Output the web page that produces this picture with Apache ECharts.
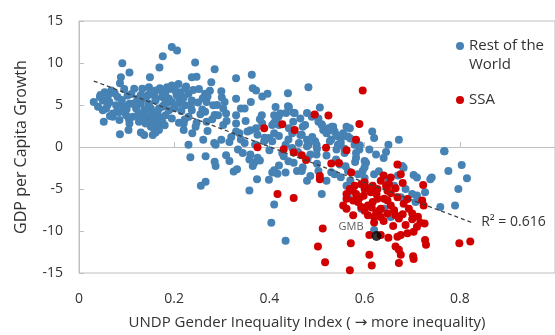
<!DOCTYPE html>
<html>
<head>
<meta charset="utf-8">
<script src="https://cdn.jsdelivr.net/npm/echarts@6/dist/echarts.min.js"></script>
<style>
  html, body { margin: 0; padding: 0; background: #fff; }
  #chart { width: 555px; height: 335px; }
</style>
</head>
<body>
<div id="chart"></div>
<script>
// Gender inequality index vs GDP per capita growth, one point per country-period
const xTicks = [0, 0.2, 0.4, 0.6, 0.8];
const yTicks = [-15, -10, -5, 0, 5, 10, 15];

// Rest of the world: [GII, GDP per capita growth]
const restOfWorld = [
  [0.031,5.36],[0.052,3.0],[0.091,9.96],[0.106,8.87],[0.088,8.3],[0.086,7.6],[0.195,11.9],[0.206,11.5],
  [0.176,10.8],[0.169,9.46],[0.149,8.3],[0.244,10.05],[0.285,9.26],[0.237,8.3],[0.247,8.36],[0.086,1.52],
  [0.104,2.03],[0.13,1.72],[0.137,1.44],[0.155,1.44],[0.161,1.72],[0.151,2.42],[0.166,2.6],[0.23,0.27],
  [0.22,2.03],[0.238,1.64],[0.261,0.86],[0.27,1.91],[0.284,0.47],[0.278,7.7],[0.275,6.7],[0.265,6.33],
  [0.252,6.9],[0.268,5.36],[0.282,4.96],[0.285,3.8],[0.247,2.9],[0.268,3.0],[0.237,4.37],[0.259,4.45],
  [0.222,3.28],[0.22,2.8],
  [0.054,6.53],[0.068,6.72],[0.05,4.37],[0.071,3.99],[0.057,4.57],[0.081,5.94],[0.092,4.96],[0.106,5.16],
  [0.116,6.92],[0.133,6.92],[0.147,7.11],[0.161,6.72],[0.175,6.53],[0.185,7.11],[0.195,7.31],[0.209,7.5],
  [0.223,6.92],[0.209,5.94],[0.175,5.94],[0.161,5.55],[0.147,5.16],[0.137,4.37],[0.126,3.79],[0.113,3.6],
  [0.099,3.79],[0.085,3.2],[0.071,3.6],[0.106,2.81],[0.126,3.01],[0.147,3.2],[0.168,3.6],[0.182,3.79],
  [0.189,4.37],[0.178,4.96],[0.195,5.35],[0.209,5.16],[0.223,4.96],[0.237,5.55],[0.23,6.33],[0.213,6.53],
  [0.189,5.74],[0.168,4.57],[0.154,3.99],[0.14,2.81],[0.12,4.57],[0.095,4.37],[0.078,4.96],[0.064,5.35],
  [0.05,5.55],[0.158,2.23],[0.168,2.03],[0.175,3.01],
  [0.061,6.14],[0.102,6.14],[0.123,5.74],[0.144,6.14],[0.157,6.33],[0.182,5.55],[0.202,6.72],[0.216,5.74],
  [0.14,3.79],[0.161,3.2],[0.085,4.18],[0.044,5.94],[0.113,5.16],[0.13,5.16],[0.151,4.57],[0.182,6.14],
  [0.04,4.8],[0.045,6.2],[0.06,5.0],[0.065,3.7],[0.075,6.4],[0.08,4.2],[0.09,5.6],[0.095,6.9],
  [0.1,4.5],[0.105,3.3],[0.11,6.3],[0.12,5.3],[0.125,4.0],[0.13,6.2],[0.135,3.4],[0.14,5.8],
  [0.145,4.7],[0.15,6.6],[0.155,3.0],[0.16,5.9],[0.165,4.2],[0.17,7.0],[0.175,4.8],[0.18,2.6],
  [0.185,5.3],[0.19,6.9],[0.195,3.4],[0.2,4.6],[0.205,6.2],[0.21,2.9],[0.215,4.3],[0.22,5.9],
  [0.225,7.2],[0.23,3.6],[0.235,4.9],[0.24,6.8],[0.245,2.4],[0.25,5.3],[0.255,3.9],[0.26,5.8],
  [0.265,4.2],[0.27,6.0],[0.28,3.3],[0.29,5.0],[0.3,5.9],[0.31,3.1],
  [0.33,8.17],[0.363,8.6],[0.365,7.0],[0.372,6.72],[0.482,7.11],[0.439,6.41],[0.385,6.02],[0.396,6.33],
  [0.299,6.64],[0.33,5.74],[0.361,5.35],[0.306,5.35],[0.303,4.57],[0.309,3.99],[0.292,3.79],[0.34,4.57],
  [0.348,4.57],[0.33,3.79],[0.384,3.79],[0.413,4.77],[0.439,4.85],[0.435,4.06],[0.453,4.06],[0.479,4.06],
  [0.506,4.69],[0.419,3.6],[0.385,2.81],[0.372,2.23],[0.354,1.84],[0.337,1.64],[0.33,1.84],[0.303,2.62],
  [0.299,0.86],[0.316,0.6],[0.287,0.27],[0.406,2.62],[0.417,2.81],[0.441,2.23],[0.448,1.64],[0.41,1.64],
  [0.399,1.06],[0.406,0.67],[0.389,0.67],[0.348,0.47],[0.475,2.62],[0.468,1.45],[0.479,0.86],[0.503,3.01],
  [0.51,2.62],[0.513,2.03],[0.52,1.64],[0.524,2.23],[0.531,2.42],[0.537,1.84],[0.544,1.25],[0.555,1.64],
  [0.565,1.25],[0.569,2.23],[0.527,0.67],[0.544,0.27],[0.558,-0.2],[0.496,0.67],[0.482,0.27],[0.462,0.47],
  [0.448,-0.12],[0.434,0.27],[0.465,3.4],[0.489,3.6],[0.496,3.79],[0.423,3.99],[0.375,1.45],
  [0.441,4.77],[0.451,4.07],[0.503,3.4],[0.534,2.42],[0.527,2.03],[0.562,2.42],[0.555,1.25],[0.541,1.44],
  [0.548,0.27],[0.579,0.27],[0.541,-0.31],[0.616,1.84],[0.62,1.06],[0.65,0.27],[0.672,0.86],[0.768,-0.5],
  [0.41,3.79],[0.42,2.62],[0.465,1.44],[0.479,0.08],[0.499,0.27],[0.486,-0.9],[0.499,-0.9],[0.582,-1.29],
  [0.603,-1.88],[0.624,-0.9],[0.645,-0.59],[0.679,-2.27],[0.589,-0.31],
  [0.234,-1.21],[0.266,-1.09],[0.285,-1.76],[0.287,-2.27],[0.309,-0.98],[0.316,-1.68],[0.334,-0.31],[0.344,-0.7],
  [0.325,-2.93],[0.332,-2.66],[0.256,-4.61],[0.266,-4.14],[0.358,-5.19],[0.374,-3.83],[0.358,-1.48],[0.368,-1.88],
  [0.375,-1.29],[0.365,-2.27],[0.399,-3.91],[0.406,-3.05],[0.417,-3.17],[0.41,-2.77],[0.434,-3.05],[0.41,-6.84],
  [0.404,-9.03],[0.434,-11.17],[0.427,-0.7],
  [0.451,-1.88],[0.458,-2.85],[0.468,-2.85],[0.486,-3.44],[0.479,-4.03],[0.503,-2.85],[0.52,-4.03],[0.51,-5.59],
  [0.537,-3.24],[0.548,-2.07],[0.565,-2.85],[0.586,-3.24],[0.6,-1.68],[0.582,-0.7],[0.558,-0.7],[0.62,-3.24],
  [0.596,-2.85],[0.662,-4.61],[0.676,-5.98],[0.686,-5.0],[0.7,-5.59],[0.707,-6.56],[0.562,-4.61],[0.565,-5.98],
  [0.593,-7.35],[0.62,-9.89],[0.641,-7.35],[0.655,-8.32],[0.682,-2.46],
  [0.767,-0.51],[0.804,-2.15],[0.776,-2.85],[0.815,-3.71],[0.703,-3.32],[0.71,-3.63],[0.738,-3.83],[0.741,-3.63],
  [0.797,-5.0],[0.727,-5.39],[0.71,-5.78],[0.79,-6.95],[0.759,-7.15],
  [0.32,1.2],[0.33,2.8],[0.34,0.9],[0.35,3.1],[0.36,2.0],[0.37,0.3],[0.38,3.3],[0.39,1.1],
  [0.4,-0.4],[0.41,2.9],[0.42,1.3],[0.43,-1.1],[0.44,0.9],[0.45,3.0],[0.46,-0.6],[0.47,2.4],
  [0.48,-1.4],[0.49,1.2],[0.5,-0.2],[0.51,2.7],[0.52,-1.0],[0.53,0.9],[0.54,-1.5],[0.55,0.5],
  [0.56,-2.3],[0.57,1.0],[0.58,-1.8],[0.59,0.2],[0.6,-2.4],[0.61,-0.3],[0.36,-0.9],[0.38,-1.6],
  [0.42,-2.2],[0.44,-1.7],[0.47,-2.4],[0.5,-2.0],[0.53,-3.0],[0.55,-3.6],[0.57,-4.0],[0.6,-3.7],
  [0.63,-2.9],[0.65,-4.0],[0.64,-1.3],[0.67,-3.4]
];

// Sub-Saharan Africa: [GII, GDP per capita growth]
const ssa = [
  [0.389,2.23],[0.375,-0.04],[0.427,2.7],[0.453,2.03],[0.495,3.87],[0.524,3.75],[0.43,-0.27],[0.451,-0.66],
  [0.519,-0.1],[0.562,-0.4],[0.596,6.72],[0.589,2.73],[0.582,0.86],[0.468,-0.97],[0.477,-1.56],[0.53,-1.95],
  [0.546,-1.91],[0.669,-2.07],[0.417,-5.59],
  [0.572,-3.05],[0.655,-3.63],[0.651,-4.4],[0.676,-3.24],[0.451,-6.06],[0.506,-3.83],[0.555,-6.96],[0.562,-7.35],
  [0.576,-8.13],[0.582,-5.59],[0.598,-5.79],[0.613,-5.4],[0.603,-4.81],[0.593,-4.42],[0.617,-4.61],[0.627,-5.0],
  [0.634,-4.03],[0.641,-6.17],[0.627,-6.17],[0.648,-5.2],[0.607,-8.13],[0.62,-8.32],[0.634,-8.32],[0.648,-7.93],
  [0.662,-7.54],[0.672,-8.52],[0.686,-9.3],[0.676,-10.47],[0.69,-10.28],[0.703,-10.08],[0.71,-9.5],[0.61,-10.47],
  [0.634,-10.47],[0.593,-7.15],[0.607,-6.96],[0.634,-7.35],[0.655,-6.96],[0.669,-5.98],[0.682,-6.76],[0.693,-7.35],
  [0.512,-9.69],[0.571,-11.45],[0.502,-11.84],[0.517,-13.72],[0.569,-14.66],[0.61,-12.82],[0.615,-14.11],[0.672,-12.23],
  [0.676,-12.82],[0.672,-13.8],[0.702,-13.0],[0.669,-10.67],[0.576,-6.37],[0.562,-6.17],[0.586,-6.56],[0.617,-6.56],
  [0.648,-6.37],[0.624,-7.93],[0.665,-8.13],[0.6,-5.0],[0.579,-4.61],[0.569,-5.0],[0.562,-5.59],
  [0.723,-4.53],[0.721,-6.37],[0.724,-6.95],[0.7,-7.93],[0.717,-9.03],[0.727,-11.06],[0.729,-11.65],[0.799,-11.45],
  [0.822,-11.26],[0.703,-13.33],[0.665,-11.84],[0.712,-8.3],[0.506,-3.44],[0.726,-9.1],
  [0.575,-5.2],[0.59,-6.0],[0.6,-7.6],[0.615,-7.2],[0.625,-5.6],[0.64,-8.8],[0.655,-5.5],[0.66,-9.4],
  [0.68,-8.0],[0.69,-6.2],[0.7,-8.6],[0.62,-9.0],[0.63,-7.6],[0.65,-10.8],[0.6,-4.2],
  [0.645,-4.6],[0.665,-4.9],[0.68,-4.3],[0.64,-3.4]
];

// The Gambia, highlighted
const gmb = [[0.625, -10.59]];

// Linear fit across all points
const trendX = [0.031, 0.824];
const trendY = [7.85, -8.96];
const rSquared = '0.616';

const BLUE = '#4682B4';
const RED = '#D00000';
const AXIS_GREY = '#BFBFBF';
const TEXT = '#333333';
const FONT = '"Open Sans", "DejaVu Sans", sans-serif';

const chart = echarts.init(document.getElementById('chart'), null, { renderer: 'canvas' });

chart.setOption({
  animation: false,
  backgroundColor: '#ffffff',
  textStyle: { fontFamily: FONT },
  grid: {
    left: 79, top: 21, right: -6, bottom: 58,
    show: true, borderColor: AXIS_GREY, borderWidth: 1
  },
  xAxis: [
    {
      type: 'value', position: 'bottom',
      min: xTicks[0], max: 1, interval: 0.2,
      axisLine: { show: false, onZero: false },
      axisTick: { show: false },
      splitLine: { show: false },
      axisLabel: { margin: 19, fontSize: 14, color: TEXT, fontFamily: FONT, showMaxLabel: false },
      name: 'UNDP Gender Inequality Index ( \u2192 more inequality)',
      nameLocation: 'middle',
      nameGap: 42,
      nameTextStyle: { fontSize: 15, color: TEXT, fontFamily: FONT, padding: [0, 20, 0, 0] }
    },
    {
      type: 'value', position: 'top',
      min: xTicks[0], max: 1, interval: 0.2,
      axisLine: { show: true, onZero: true, onZeroAxisIndex: 0, lineStyle: { color: AXIS_GREY, width: 1 } },
      axisTick: { show: true, inside: false, length: 5, lineStyle: { color: AXIS_GREY } },
      axisLabel: { show: false },
      splitLine: { show: false }
    }
  ],
  yAxis: {
    type: 'value',
    min: yTicks[0], max: yTicks[yTicks.length - 1], interval: 5,
    axisLine: { show: true, onZero: false, lineStyle: { color: AXIS_GREY } },
    axisTick: { show: true, inside: true, length: 5, lineStyle: { color: AXIS_GREY } },
    splitLine: { show: false },
    axisLabel: { margin: 16, fontSize: 14, color: TEXT, fontFamily: FONT },
    name: 'GDP per Capita Growth',
    nameLocation: 'middle',
    nameRotate: 90,
    nameGap: 50,
    nameTextStyle: { fontSize: 16, color: TEXT, fontFamily: FONT }
  },
  series: [
    {
      name: 'Rest of the World', type: 'scatter', xAxisIndex: 0,
      symbolSize: 8, itemStyle: { color: BLUE, opacity: 1 },
      data: restOfWorld, z: 2
    },
    {
      name: 'SSA', type: 'scatter', xAxisIndex: 0,
      symbolSize: 8, itemStyle: { color: RED, opacity: 1 },
      data: ssa, z: 3
    },
    {
      name: 'GMB', type: 'scatter', xAxisIndex: 0,
      symbolSize: 10, itemStyle: { color: '#000000' },
      data: gmb, z: 4,
      label: {
        show: true, formatter: 'GMB', position: 'left', distance: 8, offset: [0, -9],
        fontSize: 11, color: TEXT, fontFamily: FONT
      }
    },
    {
      name: 'Fit', type: 'line', xAxisIndex: 0,
      data: trendX.map((x, i) => [x, trendY[i]]),
      symbol: 'none', z: 5,
      lineStyle: { color: '#404040', width: 1.3, type: [4, 3] },
      endLabel: {
        show: true, formatter: 'R\u00B2 = ' + rSquared, distance: 10,
        fontSize: 14, color: TEXT, fontFamily: FONT
      }
    }
  ],
  graphic: [
    { type: 'circle', shape: { cx: 460, cy: 46, r: 4 }, style: { fill: BLUE } },
    { type: 'text', x: 469, y: 46, style: { text: 'Rest of the', fill: TEXT, font: '15px ' + FONT, verticalAlign: 'middle' } },
    { type: 'text', x: 469, y: 65, style: { text: 'World', fill: TEXT, font: '15px ' + FONT, verticalAlign: 'middle' } },
    { type: 'circle', shape: { cx: 460, cy: 100, r: 4 }, style: { fill: RED } },
    { type: 'text', x: 469, y: 100, style: { text: 'SSA', fill: TEXT, font: '15px ' + FONT, verticalAlign: 'middle' } }
  ]
});
</script>
</body>
</html>
